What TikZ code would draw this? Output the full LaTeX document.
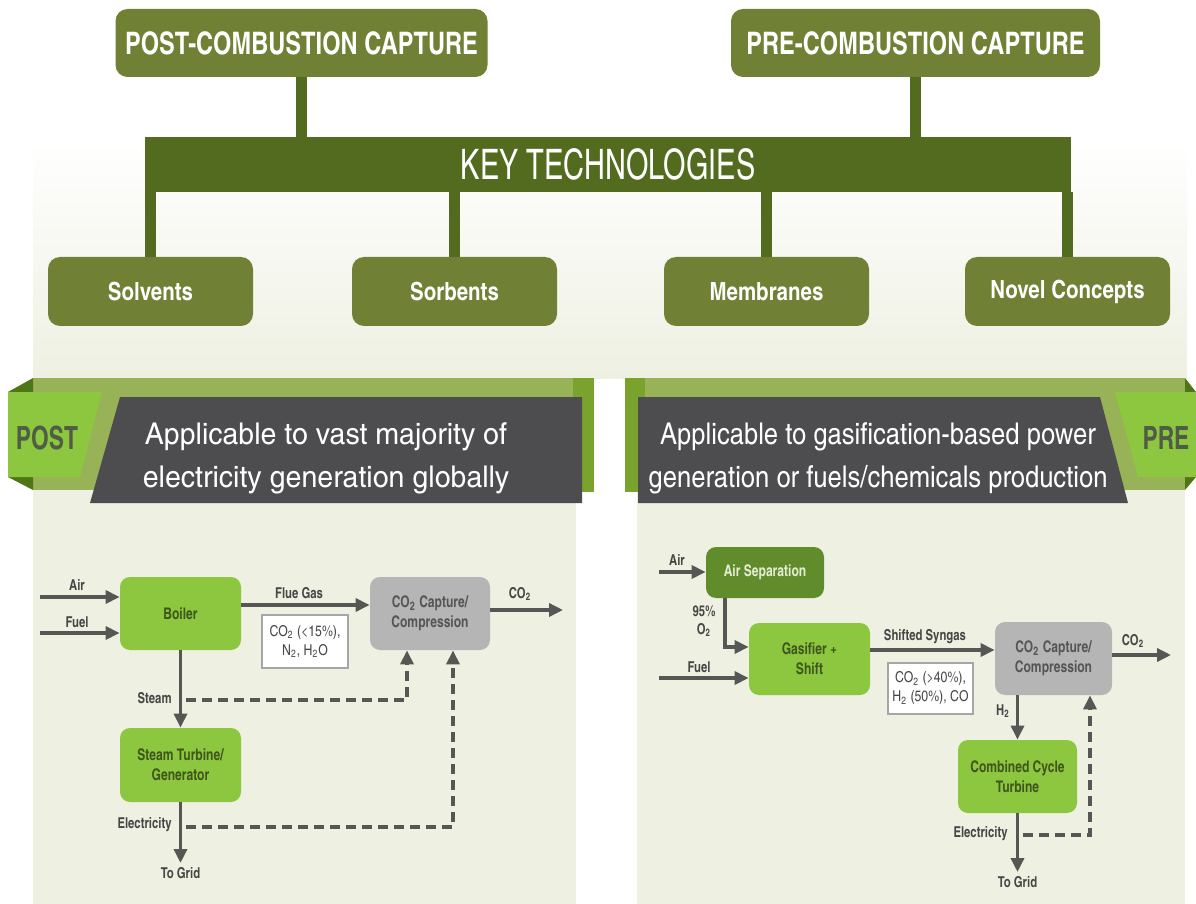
\documentclass[tikz,border=0pt]{standalone}
\usepackage{fontspec}
\setmainfont{texgyreheroscn}[Extension=.otf,UprightFont=*-regular,BoldFont=*-bold,ItalicFont=*-italic,BoldItalicFont=*-bolditalic]
\newfontfamily\titlefont{texgyreheroscn}[Extension=.otf,UprightFont=*-bold,FakeStretch=0.93]
\newfontfamily\keyfont{texgyreheroscn}[Extension=.otf,UprightFont=*-regular,FakeStretch=0.84]
\newfontfamily\tagfont{texgyreheroscn}[Extension=.otf,UprightFont=*-bold,FakeStretch=0.87]
\newfontfamily\bannerLfont{texgyreheroscn}[Extension=.otf,UprightFont=*-regular,FakeStretch=1.16]
\newfontfamily\bannerRfont{texgyreheroscn}[Extension=.otf,UprightFont=*-regular,FakeStretch=1.04]
\newfontfamily\boxfont{texgyreheroscn}[Extension=.otf,UprightFont=*-bold,FakeStretch=0.92]
\usetikzlibrary{positioning,arrows.meta}

\definecolor{olivebox}{RGB}{112,128,52}
\definecolor{bargreen}{RGB}{82,107,30}
\definecolor{bgpale}{RGB}{238,240,226}
\definecolor{olivestrip}{RGB}{152,178,88}
\definecolor{edgegreen}{RGB}{122,163,45}
\definecolor{tabgreen}{RGB}{141,198,63}
\definecolor{foldgreen}{RGB}{78,118,22}
\definecolor{bannergray}{RGB}{77,77,80}
\definecolor{tabtext}{RGB}{80,92,70}
\definecolor{boxtext}{RGB}{62,86,28}
\definecolor{capgray}{RGB}{181,181,181}
\definecolor{captext}{RGB}{85,85,85}
\definecolor{sepgreen}{RGB}{96,140,44}
\definecolor{septext}{RGB}{228,236,210}
\definecolor{arrowgray}{RGB}{85,87,85}
\definecolor{labelgray}{RGB}{70,70,70}

\newcommand{\sub}[1]{\textsubscript{#1}}

\begin{document}
\begin{tikzpicture}[
	x=0.5pt,y=-0.5pt,
	topbox/.style={fill=olivebox, rounded corners=6pt, text=white,
		font=\titlefont\fontsize{15.5}{18}\selectfont,
		minimum width=186pt, minimum height=34pt, inner sep=0pt},
	techbox/.style={topbox, font=\bfseries\fontsize{12.5}{15}\selectfont,
		minimum width=102.5pt, minimum height=34.5pt},
	trunk/.style={draw=bargreen, line width=5.5pt},
	greenbox/.style={fill=tabgreen, rounded corners=5pt, text=boxtext, align=center,
		font=\boxfont\fontsize{8}{10}\selectfont,
		minimum width=60.5pt, minimum height=36.5pt, inner sep=0pt},
	graybox/.style={greenbox, fill=capgray, text=captext},
	note/.style={draw=gray!70, fill=white, line width=0.7pt, text=labelgray, align=center,
		font=\fontsize{7.5}{9.5}\selectfont, inner sep=0pt},
	lbl/.style={text=labelgray, font=\boxfont\fontsize{7.5}{9}\selectfont, inner sep=1pt},
	flow/.style={draw=arrowgray, line width=1.7pt, -{Triangle[length=7pt,width=6.5pt]}},
	aux/.style={flow, dash pattern=on 5pt off 3pt}
]
	\useasboundingbox (0,0) rectangle (1196,904);

	%% background
	\shade[top color=white, bottom color=bgpale] (33,140) rectangle (1187,378);
	\fill[bgpale] (33,378) rectangle (576,904);
	\fill[bgpale] (637,378) rectangle (1185,904);

	%% top tree
	\node[topbox] (post) at (301.5,43) {POST-COMBUSTION CAPTURE};
	\node[topbox, minimum width=184.5pt] (pre) at (915.5,43) {PRE-COMBUSTION CAPTURE};
	\node[fill=bargreen, text=white, minimum width=463pt, minimum height=27.5pt, inner sep=0pt,
		font=\keyfont\fontsize{21}{24}\selectfont] (key) at (608,164.5) {KEY TECHNOLOGIES};
	\node[techbox] (solv) at (150.5,291.5) {Solvents};
	\node[techbox] (sorb) at (454.5,291.5) {Sorbents};
	\node[techbox] (memb) at (766.5,291.5) {Membranes};
	\node[techbox] (novel) at (1067.5,291.5) {Novel Concepts};
	\draw[trunk] (post.south) -- (post.south |- key.north);
	\draw[trunk] (pre.south) -- (pre.south |- key.north);
	\foreach \t in {solv,sorb,memb,novel}
		\draw[trunk] (\t.north) -- (\t.north |- key.south);

	%% POST banner
	\fill[olivestrip] (33,378) rectangle (594,490);
	\fill[edgegreen] (573,378) rectangle (594,492);
	\fill[foldgreen] (8,392) -- (33,378) -- (33,392) -- cycle;
	\fill[foldgreen] (8,477) -- (33,477) -- (33,490) -- cycle;
	\fill[tabgreen] (8,392) -- (102,392) -- (80,477) -- (8,477) -- cycle;
	\fill[bannergray] (120,397) -- (582,397) -- (582,503) -- (90,503) -- cycle;
	\node[text=tabtext, font=\tagfont\fontsize{16}{18}\selectfont] (posttag) at (47,438) {POST};
	\node[text=white, align=center, font=\bannerLfont\fontsize{15}{21.5}\selectfont] (posttxt) at (326,458)
		{Applicable to vast majority of\\electricity generation globally};

	%% PRE banner
	\fill[olivestrip] (625,378) rectangle (1185,490);
	\fill[edgegreen] (625,378) rectangle (645,492);
	\fill[foldgreen] (1196,392) -- (1185,378) -- (1185,392) -- cycle;
	\fill[foldgreen] (1196,477) -- (1185,477) -- (1185,490) -- cycle;
	\fill[tabgreen] (1115,392) -- (1196,392) -- (1196,477) -- (1138,477) -- cycle;
	\fill[bannergray] (638,397) -- (1100,397) -- (1128,503) -- (638,503) -- cycle;
	\node[text=tabtext, font=\tagfont\fontsize{16}{18}\selectfont] (pretag) at (1166,438) {PRE};
	\node[text=white, align=center, font=\bannerRfont\fontsize{15}{21.5}\selectfont] (pretxt) at (878,458)
		{Applicable to gasification-based power\\generation or fuels/chemicals production};

	%% post-combustion flow
	\node[greenbox] (boiler) at (180.5,613.5) {Boiler};
	\node[graybox, minimum width=60pt] (capL) at (430,613.5) {CO\sub{2} Capture/\\Compression};
	\node[greenbox, minimum height=37pt] (turb) at (180.5,765) {Steam Turbine/\\Generator};
	\node[note, minimum width=43pt, minimum height=26.5pt] (gasL) at (305,641.5) {CO\sub{2} (<15\%),\\N\sub{2}, H\sub{2}O};
	\coordinate (airL) at (40,597);
	\coordinate (fuelL) at (40,633);
	\coordinate (co2L) at (563,610);
	\coordinate (gridL) at (180.5,863);
	\coordinate (steamL) at (186,700);
	\coordinate (elecL) at (186,827);
	\draw[flow] (airL) -- (boiler.west |- airL);
	\draw[flow] (fuelL) -- (boiler.west |- fuelL);
	\draw[flow] (boiler.east |- 0,605) -- (capL.west |- 0,605);
	\draw[flow] (capL.east |- co2L) -- (co2L);
	\draw[flow] (boiler.south) -- (turb.north);
	\draw[flow] (turb.south) -- (gridL);
	\draw[aux] (steamL) -| (capL.south -| 407,0);
	\draw[aux] (elecL) -| (capL.south -| 453,0);
	\node[lbl] at (77,585) {Air};
	\node[lbl] at (77,622) {Fuel};
	\node[lbl] at (299,593) {Flue Gas};
	\node[lbl] at (520,594) {CO\sub{2}};
	\node[lbl, anchor=east] at (174,698) {Steam};
	\node[lbl, anchor=east] at (174,825) {Electricity};
	\node[lbl, below=1pt of gridL] {To Grid};

	%% pre-combustion flow
	\node[greenbox, fill=sepgreen, text=septext, minimum width=59pt, minimum height=25.5pt] (airsep) at (765,572.5) {Air Separation};
	\node[greenbox, minimum height=36pt] (gasif) at (809.5,659) {Gasifier +\\Shift};
	\node[graybox, minimum width=58.5pt] (capR) at (1053.5,658.5) {CO\sub{2} Capture/\\Compression};
	\node[greenbox, minimum width=59.5pt] (cct) at (1017.5,776.5) {Combined Cycle\\Turbine};
	\node[note, minimum width=42.5pt, minimum height=25.5pt] (gasR) at (930.5,688.5) {CO\sub{2} (>40\%),\\H\sub{2} (50\%), CO};
	\coordinate (airR) at (659,572);
	\coordinate (fuelR) at (659,678);
	\coordinate (co2R) at (1171,655);
	\coordinate (gridR) at (1017.5,872);
	\coordinate (elecR) at (1023,835);
	\draw[flow] (airR) -- (airsep.west |- airR);
	\draw[flow] (airsep.south -| 725,0) |- (gasif.west |- 0,647);
	\draw[flow] (fuelR) -- (gasif.west |- fuelR);
	\draw[flow] (gasif.east |- 0,650) -- (capR.west |- 0,650);
	\draw[flow] (capR.east |- co2R) -- (co2R);
	\draw[flow] (capR.south -| cct.north) -- (cct.north);
	\draw[flow] (cct.south) -- (gridR);
	\draw[aux] (elecR) -| (capR.south -| 1090,0);
	\node[lbl] at (677,560) {Air};
	\node[lbl, align=center] at (704,621) {95\%\\O\sub{2}};
	\node[lbl] at (699,667) {Fuel};
	\node[lbl] at (925,637) {Shifted Syngas};
	\node[lbl] at (1133,641) {CO\sub{2}};
	\node[lbl] at (1003,711) {H\sub{2}};
	\node[lbl, anchor=east] at (1010,834) {Electricity};
	\node[lbl, below=1pt of gridR] {To Grid};
\end{tikzpicture}
\end{document}
